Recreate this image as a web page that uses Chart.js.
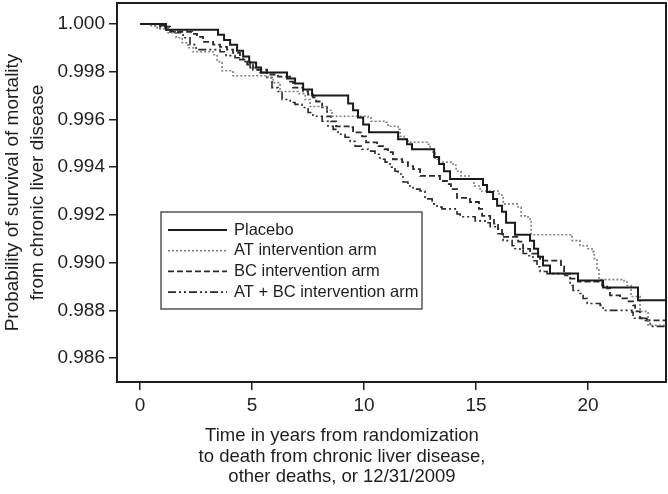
<!DOCTYPE html>
<html>
<head>
<meta charset="utf-8">
<script src="https://cdn.jsdelivr.net/npm/chart.js@4.4.0/dist/chart.umd.min.js"></script>
<style>
  html, body { margin: 0; padding: 0; background: #fff; }
  #wrap { width: 668px; height: 494px; }
</style>
</head>
<body>
<div id="wrap"><canvas id="chart-km" width="668" height="494"></canvas></div>
<script>
// Axis ticks
const X_TICKS = [0, 5, 10, 15, 20];
const Y_TICKS = [0.986, 0.988, 0.990, 0.992, 0.994, 0.996, 0.998, 1.000];

const SERIES_LABELS = ["Placebo", "AT intervention arm", "BC intervention arm", "AT + BC intervention arm"];

// Kaplan-Meier steps (years, survival)
const placeboYears = [0, 1.16, 3.48, 3.75, 4.02, 4.33, 4.60, 4.87, 5.18, 5.40, 6.56, 6.92, 7.28, 7.68, 9.29, 9.51, 9.73, 9.96, 10.22, 11.52, 11.92, 12.14, 13.13, 13.35, 13.57, 13.84, 15.31, 15.49, 15.76, 15.94, 16.16, 16.34, 16.74, 17.41, 17.59, 17.77, 17.99, 18.30, 19.55, 20.67, 22.23, 23.48];
const placeboSurv = [1.00000, 0.99975, 0.99954, 0.99933, 0.99913, 0.99888, 0.99863, 0.99838, 0.99817, 0.99796, 0.99771, 0.99750, 0.99725, 0.99700, 0.99667, 0.99638, 0.99608, 0.99579, 0.99546, 0.99517, 0.99496, 0.99475, 0.99442, 0.99413, 0.99383, 0.99350, 0.99325, 0.99296, 0.99267, 0.99238, 0.99213, 0.99167, 0.99117, 0.99092, 0.99058, 0.99025, 0.98988, 0.98954, 0.98925, 0.98896, 0.98842, 0.98842];

const atYears = [0, 0.45, 0.76, 1.25, 1.61, 1.88, 2.14, 2.37, 3.26, 3.44, 3.66, 4.15, 5.71, 5.94, 6.25, 7.05, 7.37, 7.59, 8.35, 8.57, 10.18, 10.31, 10.98, 11.07, 11.52, 11.61, 11.79, 11.96, 12.81, 12.95, 13.08, 13.17, 13.35, 13.97, 14.11, 14.33, 14.73, 14.91, 15.18, 16.03, 16.21, 16.88, 17.01, 17.32, 17.46, 19.29, 19.64, 19.96, 20.18, 20.27, 20.40, 20.49, 21.61, 21.74, 21.92, 22.32, 22.68, 23.48];
const atSurv = [1.00000, 0.99992, 0.99979, 0.99963, 0.99942, 0.99921, 0.99900, 0.99883, 0.99871, 0.99842, 0.99804, 0.99783, 0.99775, 0.99754, 0.99717, 0.99708, 0.99683, 0.99654, 0.99638, 0.99613, 0.99608, 0.99592, 0.99588, 0.99571, 0.99558, 0.99529, 0.99517, 0.99504, 0.99496, 0.99475, 0.99458, 0.99433, 0.99421, 0.99408, 0.99383, 0.99363, 0.99350, 0.99321, 0.99300, 0.99283, 0.99246, 0.99233, 0.99196, 0.99183, 0.99117, 0.99092, 0.99071, 0.99058, 0.99046, 0.99017, 0.98975, 0.98929, 0.98921, 0.98904, 0.98858, 0.98796, 0.98738, 0.98738];

const bcYears = [0, 0.89, 1.34, 2.32, 2.54, 2.81, 3.26, 3.57, 3.88, 4.15, 4.46, 4.78, 5.04, 5.67, 6.16, 6.70, 6.83, 7.28, 7.50, 7.72, 7.86, 8.13, 8.35, 8.53, 8.75, 9.38, 9.51, 9.91, 10.09, 10.58, 10.85, 11.07, 11.29, 11.70, 11.96, 12.19, 12.50, 13.39, 13.71, 13.88, 14.15, 14.73, 15.13, 15.27, 15.63, 15.80, 15.98, 16.16, 16.88, 17.10, 17.41, 17.72, 17.86, 18.79, 18.93, 19.20, 19.55, 20.63, 20.85, 20.98, 21.43, 21.74, 22.01, 22.10, 22.32, 22.50, 23.48];
const bcSurv = [1.00000, 0.99988, 0.99967, 0.99958, 0.99946, 0.99925, 0.99913, 0.99904, 0.99892, 0.99879, 0.99850, 0.99829, 0.99808, 0.99788, 0.99779, 0.99758, 0.99733, 0.99717, 0.99704, 0.99692, 0.99675, 0.99650, 0.99613, 0.99592, 0.99571, 0.99567, 0.99546, 0.99529, 0.99504, 0.99488, 0.99475, 0.99463, 0.99433, 0.99421, 0.99404, 0.99392, 0.99363, 0.99342, 0.99329, 0.99308, 0.99271, 0.99254, 0.99225, 0.99196, 0.99183, 0.99163, 0.99142, 0.99108, 0.99088, 0.99058, 0.99038, 0.99025, 0.99008, 0.98983, 0.98954, 0.98933, 0.98921, 0.98904, 0.98892, 0.98863, 0.98850, 0.98838, 0.98821, 0.98796, 0.98767, 0.98758, 0.98758];

const atbcYears = [0, 0.67, 1.12, 1.56, 1.92, 2.23, 2.50, 3.57, 3.84, 4.24, 4.60, 4.91, 5.27, 5.67, 5.89, 6.16, 6.34, 6.70, 6.92, 7.23, 7.50, 7.72, 8.13, 8.39, 8.62, 8.84, 9.15, 9.38, 9.60, 9.91, 10.18, 10.49, 10.71, 10.94, 11.16, 11.38, 11.52, 11.74, 11.96, 12.19, 12.50, 12.72, 13.04, 13.26, 13.48, 14.15, 14.29, 14.96, 15.40, 15.63, 15.98, 16.21, 16.61, 16.70, 16.96, 17.10, 17.32, 17.54, 17.72, 17.86, 18.17, 18.97, 19.20, 19.33, 19.64, 19.78, 19.96, 20.54, 20.67, 21.96, 22.01, 22.63, 22.77, 23.48];
const atbcSurv = [1.00000, 0.99992, 0.99975, 0.99963, 0.99942, 0.99913, 0.99892, 0.99883, 0.99867, 0.99858, 0.99842, 0.99817, 0.99796, 0.99775, 0.99733, 0.99717, 0.99683, 0.99671, 0.99663, 0.99650, 0.99629, 0.99613, 0.99592, 0.99571, 0.99558, 0.99538, 0.99525, 0.99508, 0.99488, 0.99475, 0.99467, 0.99454, 0.99433, 0.99421, 0.99400, 0.99383, 0.99371, 0.99338, 0.99321, 0.99308, 0.99300, 0.99267, 0.99246, 0.99233, 0.99225, 0.99204, 0.99192, 0.99175, 0.99167, 0.99150, 0.99121, 0.99092, 0.99071, 0.99058, 0.99050, 0.99038, 0.99029, 0.99008, 0.98983, 0.98963, 0.98954, 0.98946, 0.98904, 0.98883, 0.98871, 0.98850, 0.98829, 0.98821, 0.98800, 0.98792, 0.98767, 0.98758, 0.98733, 0.98733];

const X_TITLE = ["Time in years from randomization", "to death from chronic liver disease,", "other deaths, or 12/31/2009"];
const Y_TITLE = ["Probability of survival of mortality", "from chronic liver disease"];

const FONT = "'Liberation Sans', Arial, Helvetica, sans-serif";
const INK = "#1e1e1e";

const toPoints = (xs, ys) => xs.map((x, i) => ({ x: x, y: ys[i] }));

const makeSet = (label, xs, ys, color, width, dash) => ({
  label: label,
  data: toPoints(xs, ys),
  borderColor: color,
  borderWidth: width,
  borderDash: dash,
  stepped: true,
  pointRadius: 0,
  fill: false,
});

const DATA = {
  datasets: [
    makeSet(SERIES_LABELS[0], placeboYears, placeboSurv, "#1a1a1a", 2, []),
    makeSet(SERIES_LABELS[1], atYears, atSurv, "#808080", 1.6, [2, 2]),
    makeSet(SERIES_LABELS[2], bcYears, bcSurv, "#2a2a2a", 1.8, [6, 3]),
    makeSet(SERIES_LABELS[3], atbcYears, atbcSurv, "#2a2a2a", 1.6, [8, 3, 2, 3, 2, 3]),
  ],
};

// Frame, legend box and x title
const decorations = {
  id: "decorations",
  afterDraw(chart) {
    const { ctx, chartArea: a } = chart;
    ctx.save();
    ctx.strokeStyle = INK;
    ctx.lineWidth = 2;
    ctx.setLineDash([]);
    ctx.strokeRect(a.left, a.top, a.right - a.left, a.bottom - a.top);

    // legend
    const lx = a.left + 44, ly = 212, lw = 261, lh = 97;
    ctx.fillStyle = "#fff";
    ctx.fillRect(lx, ly, lw, lh);
    ctx.strokeStyle = "#555";
    ctx.lineWidth = 1.5;
    ctx.strokeRect(lx, ly, lw, lh);
    ctx.font = "16.5px " + FONT;
    ctx.textBaseline = "middle";
    ctx.textAlign = "left";
    chart.data.datasets.forEach((ds, i) => {
      const y = ly + 18 + i * 20.7;
      ctx.strokeStyle = ds.borderColor;
      ctx.lineWidth = ds.borderWidth;
      ctx.setLineDash(ds.borderDash);
      ctx.beginPath();
      ctx.moveTo(lx + 7, y);
      ctx.lineTo(lx + 66, y);
      ctx.stroke();
      ctx.setLineDash([]);
      ctx.fillStyle = INK;
      ctx.fillText(ds.label, lx + 73, y);
    });

    // x axis title
    ctx.font = "18.5px " + FONT;
    ctx.textAlign = "center";
    ctx.fillStyle = INK;
    X_TITLE.forEach((t, i) => ctx.fillText(t, a.left + 225, 436 + i * 20.5));
    ctx.restore();
  },
};

const CONFIG = {
  type: "line",
  data: DATA,
  plugins: [decorations],
  options: {
    responsive: false,
    animation: false,
    devicePixelRatio: 1,
    layout: { padding: { top: 3, right: 2, left: 0, bottom: 0 } },
    plugins: {
      legend: { display: false },
      tooltip: { enabled: false },
    },
    scales: {
      x: {
        type: "linear",
        min: -1.03,
        max: 23.48,
        afterFit: (s) => { s.height = 112; s.paddingLeft = 0; s.paddingRight = 0; },
        afterBuildTicks: (s) => { s.ticks = X_TICKS.map((v) => ({ value: v })); },
        border: { display: true, color: INK, width: 2 },
        grid: { drawOnChartArea: false, drawTicks: true, tickLength: 8, color: INK, lineWidth: 1.5 },
        ticks: { color: INK, padding: 4, maxRotation: 0, font: { family: FONT, size: 19 } },
      },
      y: {
        type: "linear",
        min: 0.985,
        max: 1.000875,
        afterFit: (s) => { s.width = 117; s.paddingTop = 0; s.paddingBottom = 0; },
        afterBuildTicks: (s) => { s.ticks = Y_TICKS.map((v) => ({ value: v })); },
        border: { display: true, color: INK, width: 2 },
        grid: { drawOnChartArea: false, drawTicks: true, tickLength: 8, color: INK, lineWidth: 1.5 },
        ticks: {
          color: INK,
          padding: 4,
          font: { family: FONT, size: 19 },
          callback: (v) => Number(v).toFixed(3),
        },
        title: {
          display: true,
          text: Y_TITLE,
          color: INK,
          padding: { top: 0, bottom: 0 },
          font: { family: FONT, size: 19, lineHeight: 1.34 },
        },
      },
    },
  },
};

const CHART_WRAPPER = document.getElementById("chart-km");
new Chart(CHART_WRAPPER, CONFIG);
</script>
</body>
</html>
